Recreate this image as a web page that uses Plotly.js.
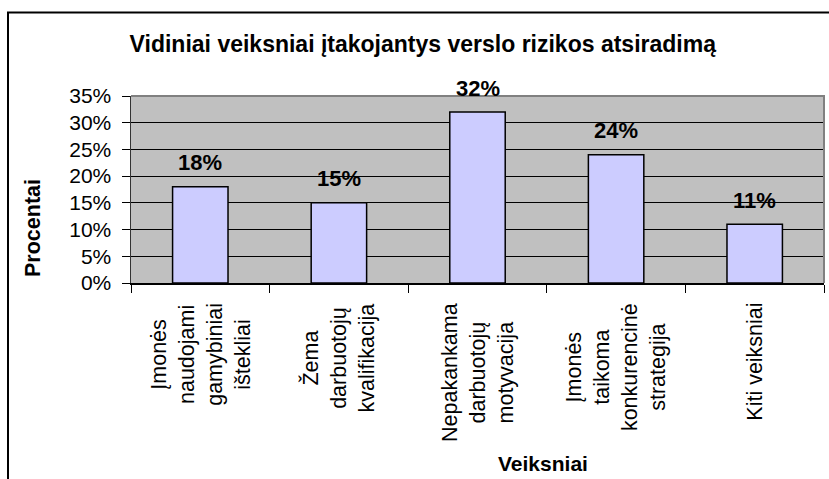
<!DOCTYPE html>
<html><head><meta charset="utf-8">
<script src="https://cdn.plot.ly/plotly-3.0.1.min.js"></script>
<style>html,body{margin:0;padding:0;background:#fff;} #chart{width:829px;height:479px;}</style>
</head><body><div id="chart"></div>
<script>
const categories = ["Įmonės naudojami gamybiniai ištekliai", "Žema darbuotojų kvalifikacija", "Nepakankama darbuotojų motyvacija", "Įmonės taikoma konkurencinė strategija", "Kiti veiksniai"];
const tickLabels = ["Įmonės<br>naudojami<br>gamybiniai<br>ištekliai", "Žema<br>darbuotojų<br>kvalifikacija", "Nepakankama<br>darbuotojų<br>motyvacija", "Įmonės<br>taikoma<br>konkurencinė<br>strategija", "Kiti veiksniai"];
const values = [0.18, 0.15, 0.32, 0.24, 0.11];
const valueLabels = ["18%", "15%", "32%", "24%", "11%"];
const yTickVals = [0, 0.05, 0.10, 0.15, 0.20, 0.25, 0.30, 0.35];
const yTickText = ["0%", "5%", "10%", "15%", "20%", "25%", "30%", "35%"];

const FONT = "Liberation Sans, Arial, sans-serif";

const trace = {
  type: "bar",
  x: categories,
  y: values,
  marker: {color: "#ccccff", line: {color: "#000000", width: 1.5}},
  hoverinfo: "skip"
};

const annotations = [];
categories.forEach((c, i) => {
  annotations.push({
    x: c, y: values[i], xref: "x", yref: "y",
    text: "<b>" + valueLabels[i] + "</b>",
    showarrow: false, yanchor: "middle", yshift: 24,
    font: {family: FONT, size: 22, color: "#000"}
  });
  annotations.push({
    x: c, y: 0, xref: "x", yref: "paper",
    text: tickLabels[i], textangle: -90, align: "center",
    showarrow: false, yanchor: "top", xanchor: "center", yshift: -18,
    font: {family: FONT, size: 21.5, color: "#000"}
  });
});
annotations.push({
  text: "<b>Veiksniai</b>", xref: "paper", yref: "paper", x: 0.5945, y: 0,
  yshift: -180, xanchor: "center", yanchor: "middle", showarrow: false,
  font: {family: FONT, size: 21, color: "#000"}
});
annotations.push({
  text: "<b>Procentai</b>", xref: "paper", yref: "paper", x: 0, y: 0,
  xshift: -98, yshift: 55, textangle: -90, xanchor: "center", yanchor: "middle", showarrow: false,
  font: {family: FONT, size: 21.5, color: "#000"}
});

const layout = {
  width: 829, height: 479,
  margin: {l: 131, r: 5, t: 96, b: 196, pad: 0},
  paper_bgcolor: "#ffffff",
  plot_bgcolor: "#c0c0c0",
  showlegend: false,
  bargap: 0.6,
  title: {
    text: "<b>Vidiniai veiksniai įtakojantys verslo rizikos atsiradimą</b>",
    xref: "container", x: 0.51, xanchor: "center",
    yref: "container", y: 1 - 44/479, yanchor: "middle",
    font: {family: FONT, size: 23, color: "#000"}
  },
  xaxis: {
    type: "category",
    showticklabels: false,
    ticks: "outside", tickson: "boundaries", ticklen: 8, tickcolor: "#000", tickwidth: 1,
    showline: true, linecolor: "#000", linewidth: 1.5,
    showgrid: false, zeroline: false, fixedrange: true
  },
  yaxis: {
    range: [0, 0.35],
    tickvals: yTickVals, ticktext: yTickText,
    ticks: "outside", ticklen: 8, tickcolor: "#000", tickwidth: 1,
    ticklabelstandoff: 6,
    tickfont: {family: FONT, size: 21, color: "#000"},
    showline: true, linecolor: "#333", linewidth: 1.5,
    showgrid: true, gridcolor: "#000", gridwidth: 1,
    zeroline: false, fixedrange: true
  },
  shapes: [
    {type: "path", xref: "paper", yref: "paper", path: "M 0 1 L 1 1 L 1 0",
     line: {color: "#808080", width: 2}, layer: "above"},
    {type: "path", xref: "paper", yref: "paper",
     path: "M " + ((8-131)/693) + " " + ((283-490)/187) + " L " + ((8-131)/693) + " " + ((283-12.5)/187) + " L " + ((840-131)/693) + " " + ((283-12.5)/187),
     line: {color: "#000", width: 2}, layer: "above"}
  ],
  annotations: annotations
};

Plotly.newPlot("chart", [trace], layout, {displayModeBar: false, staticPlot: true});
</script>
</body></html>
